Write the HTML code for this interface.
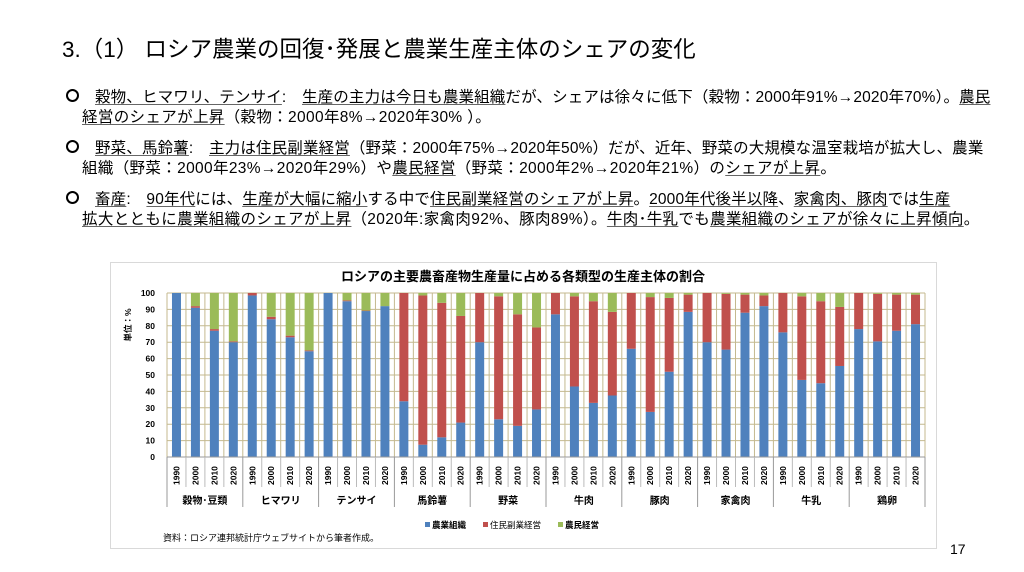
<!DOCTYPE html>
<html><head><meta charset="utf-8">
<style>
body{margin:0;width:1024px;height:572px;background:#fff;position:relative;overflow:hidden;font-family:"Liberation Sans","Noto Sans CJK JP",sans-serif;color:#000}
.t{position:absolute;white-space:nowrap}
.ln{position:absolute;left:82px;font-size:15.5px;white-space:nowrap;letter-spacing:0.35px}
.f{left:95px;letter-spacing:0.15px}
.b{position:absolute;left:66px;width:9px;height:9px;border:2px solid #000;border-radius:50%}
u{text-decoration:underline;text-decoration-color:#666;text-underline-offset:2px}
</style></head><body>
<div class="t" style="left:62px;top:32px;font-size:22.5px">3.（1） ロシア農業の回復･発展と農業生産主体のシェアの変化</div>
<div class="b" style="top:89px"></div>
<div class="ln f" style="top:85px"><u>穀物、ヒマワリ、テンサイ</u>:　<u>生産の主力は今日も農業組織</u>だが、シェアは徐々に低下（穀物：2000年91%→2020年70%）。<u>農民</u></div>
<div class="ln" style="top:105px"><u>経営のシェアが上昇</u>（穀物：2000年8%→2020年30% ）。</div>
<div class="b" style="top:140px"></div>
<div class="ln f" style="top:136px"><u>野菜、馬鈴薯</u>:　<u>主力は住民副業経営</u>（野菜：2000年75%→2020年50%）だが、近年、野菜の大規模な温室栽培が拡大し、農業</div>
<div class="ln" style="top:156px">組織（野菜：2000年23%→2020年29%）や<u>農民経営</u>（野菜：2000年2%→2020年21%）の<u>シェアが上昇</u>。</div>
<div class="b" style="top:191px"></div>
<div class="ln f" style="top:187px"><u>畜産</u>:　<u>90年代</u>には、<u>生産が大幅に縮小</u>する中で<u>住民副業経営のシェアが上昇</u>。<u>2000年代後半以降</u>、<u>家禽肉、豚肉</u>では<u>生産</u></div>
<div class="ln" style="top:207px"><u>拡大とともに農業組織のシェアが上昇</u>（2020年:家禽肉92%、豚肉89%）。<u>牛肉･牛乳</u>でも<u>農業組織のシェアが徐々に上昇傾向</u>。</div>
<div class="t" style="left:950px;top:541px;font-size:14px">17</div>
<svg id="c" width="1024" height="572" style="position:absolute;left:0;top:0" font-family="Liberation Sans, Noto Sans CJK JP, sans-serif"></svg>
<script>
var s='';
s+='<rect x="110.5" y="262.5" width="826" height="286" fill="none" stroke="#d9d9d9"/>';
s+='<text x="523" y="281" font-size="13" font-weight="bold" text-anchor="middle">ロシアの主要農畜産物生産量に占める各類型の生産主体の割合</text>';
var L=167,R=925,T=293,B=457,w=(R-L)/40;
function Y(v){return B-v*(B-T)/100;}
for(var i=0;i<=10;i++){var y=Y(i*10);s+='<line x1="'+L+'" x2="'+R+'" y1="'+y+'" y2="'+y+'" stroke="#c4b98f" stroke-width="1"/>';
s+='<text x="155" y="'+(y+3)+'" font-size="8.5" font-weight="bold" text-anchor="end">'+(i*10)+'</text>';}
for(var i=0;i<=40;i++){var x=L+i*w;s+='<line x1="'+x+'" x2="'+x+'" y1="'+T+'" y2="'+B+'" stroke="#c4b98f"/>';}
var d=[[100,0],[91,1],[77,1],[70,0.5],[98.5,1.5],[84,1.5],[73,1],[64.5,0.5],[100,0],[95,0.5],[89,0.3],[92,0],
[34,66],[7.5,91],[12,82],[21,65],[70,30],[23,75],[19,68],[29,50],[87,13],[43,55],[33,62],[37.5,51],
[66,34],[27.5,70],[52,45],[88.5,10.5],[70,30],[65.5,34],[88,11],[92,6.5],[76,24],[47,51],[45,50],[55.5,36],
[78,22],[70.5,29],[77,22],[81,18]];
var yrs=['1990','2000','2010','2020'];
for(var i=0;i<40;i++){var x=L+i*w+w/2-4.5,b=d[i][0],r=d[i][1],g=100-b-r;
s+='<rect x="'+x+'" y="'+Y(b)+'" width="9" height="'+(B-Y(b))+'" fill="#4f81bd"/>';
s+='<rect x="'+x+'" y="'+Y(b+r)+'" width="9" height="'+(Y(b)-Y(b+r))+'" fill="#c0504d"/>';
if(g>0)s+='<rect x="'+x+'" y="'+Y(100)+'" width="9" height="'+(Y(b+r)-Y(100))+'" fill="#9bbb59"/>';
var cx=L+i*w+w/2+3;s+='<text transform="translate('+cx+',485) rotate(-90)" font-size="8.5" font-weight="bold">'+yrs[i%4]+'</text>';}
s+='<line x1="'+L+'" x2="'+R+'" y1="'+B+'" y2="'+B+'" stroke="#999"/>';
var cats=['穀物･豆類','ヒマワリ','テンサイ','馬鈴薯','野菜','牛肉','豚肉','家禽肉','牛乳','鶏卵'];
for(var k=0;k<=10;k++){var x=L+k*4*w;s+='<line x1="'+x+'" x2="'+x+'" y1="'+B+'" y2="507" stroke="#999"/>';
if(k<10)s+='<text x="'+(x+2*w)+'" y="504" font-size="10" font-weight="bold" text-anchor="middle">'+cats[k]+'</text>';}
for(var i=0;i<40;i++){if(i%4){var x=L+i*w;s+='<line x1="'+x+'" x2="'+x+'" y1="'+B+'" y2="487" stroke="#bbb"/>';}}
s+='<text transform="translate(131,325) rotate(-90)" font-size="8.5" font-weight="bold" text-anchor="middle">単位：%</text>';
s+='<rect x="425" y="522" width="5" height="5" fill="#4f81bd"/><text x="432" y="528" font-size="8.5" font-weight="bold">農業組織</text>';
s+='<rect x="483" y="522" width="5" height="5" fill="#c0504d"/><text x="490" y="528" font-size="8.5">住民副業経営</text>';
s+='<rect x="558" y="522" width="5" height="5" fill="#9bbb59"/><text x="565" y="528" font-size="8.5" font-weight="bold">農民経営</text>';
s+='<text x="163" y="541" font-size="9">資料：ロシア連邦統計庁ウェブサイトから筆者作成。</text>';
document.getElementById('c').innerHTML=s;
</script>
</body></html>
